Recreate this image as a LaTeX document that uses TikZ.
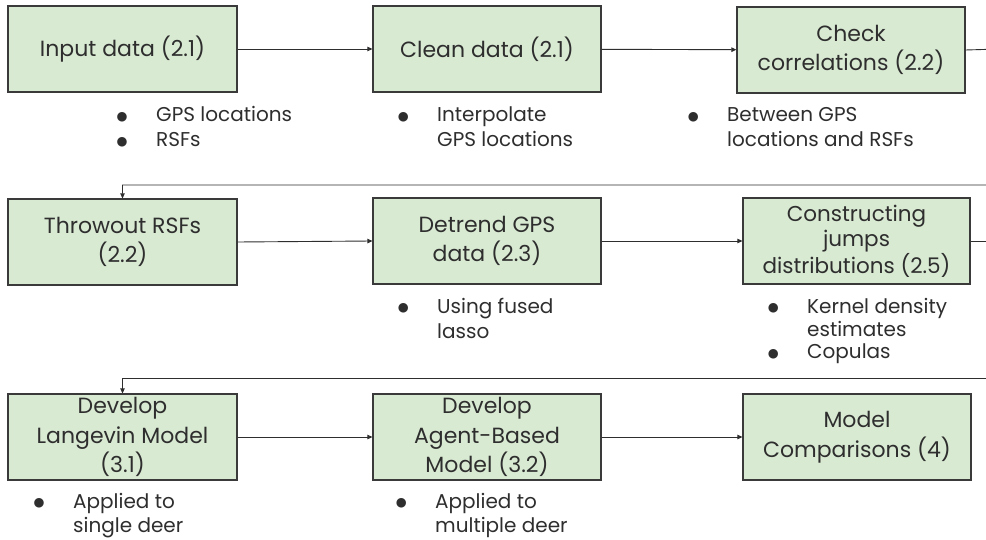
\documentclass[tikz,border=0pt]{standalone}
\usepackage{fontspec}
\setmainfont{Poppins}
\newfontfamily\symfont{DejaVu Sans}
\usetikzlibrary{arrows.meta}
\definecolor{boxfill}{HTML}{D9EAD3}
\definecolor{boxline}{HTML}{3A3A3A}
\definecolor{txt}{HTML}{2E2E2E}
\newcommand{\blt}{\makebox[0pt][c]{\raisebox{1.5pt}{\symfont\fontsize{12.5}{12.5}\selectfont ●}}}
\newcommand{\bitems}[1]{\begin{tabular}[t]{@{}l@{\hspace{34pt}}l@{}}#1\end{tabular}}
\begin{document}
\begin{tikzpicture}[x=1pt,y=-1pt,
  stage/.style={draw=boxline,line width=1.2pt,fill=boxfill,minimum width=229pt,minimum height=86pt,inner sep=0pt,align=center,text=txt,font=\fontsize{22}{29.5}\selectfont},
  stagesmall/.style={stage,font=\fontsize{21.5}{25}\selectfont},
  blist/.style={anchor=base west,inner sep=0pt,text=txt,font=\fontsize{20}{25}\selectfont},
  blistsmall/.style={blist,font=\fontsize{20}{23}\selectfont},
  blistlow/.style={blist,font=\fontsize{20}{24.5}\selectfont},
  conn/.style={draw=txt,line width=0.9pt,-{Triangle[length=5pt,width=4.5pt]}}]
\useasboundingbox (0,0) rectangle (986,540);
\clip (0,0) rectangle (986,540);
% row 1
\node[stage] (b1) at (122.5,49) {Input data (2.1)};
\node[stage,minimum width=228pt] (b2) at (487,49) {Clean data (2.1)};
\node[stage,minimum width=228pt] (b3) at (851,50) {Check\\correlations (2.2)};
% row 2
\node[stage] (b4) at (122.5,242) {Throwout RSFs\\(2.2)};
\node[stage,minimum width=228pt] (b5) at (487,241) {Detrend GPS\\data (2.3)};
\node[stagesmall,minimum width=227pt] (b6) at (856.5,241) {Constructing\\jumps\\distributions (2.5)};
% row 3
\node[stage] (b7) at (122.5,437) {Develop\\Langevin Model\\(3.1)};
\node[stage,minimum width=228pt] (b8) at (487,437) {Develop\\Agent-Based\\Model (3.2)};
\node[stage,minimum width=228pt] (b9) at (857,437) {Model\\Comparisons (4)};
% bullet lists
\node[blist] (l1) at (122,122) {\bitems{\blt & GPS locations\\ \blt & RSFs}};
\node[blist] (l2) at (403,122) {\bitems{\blt & Interpolate\\ & GPS locations}};
\node[blist] (l3) at (693,122) {\bitems{\blt & Between GPS\\ & locations and RSFs}};
\node[blist] (l5) at (403,313) {\bitems{\blt & Using fused\\ & lasso}};
\node[blistsmall] (l6) at (773,313) {\bitems{\blt & Kernel density\\ & estimates\\ \blt & Copulas}};
\node[blistlow] (l7) at (39,508) {\bitems{\blt & Applied to\\ & single deer}};
\node[blistlow] (l8) at (401,508) {\bitems{\blt & Applied to\\ & multiple deer}};
% connectors
\coordinate (r1) at (1000,49);
\coordinate (r2) at (1000,185);
\coordinate (t4) at (122.5,185);
\coordinate (r3) at (1000,241);
\coordinate (r4) at (1000,378);
\coordinate (t7) at (122.5,378);
\draw[conn] (b1) -- (b2);
\draw[conn] (b2) -- (b3);
\draw[conn] (b3.east) -- (r1) -- (r2) -- (t4) -- (b4.north);
\draw[conn] (b4.east) -- (b5.west);
\draw[conn] (b5) -- (b6);
\draw[conn] (b6.east) -- (r3) -- (r4) -- (t7) -- (b7.north);
\draw[conn] (b7) -- (b8);
\draw[conn] (b8) -- (b9);
\end{tikzpicture}
\end{document}
